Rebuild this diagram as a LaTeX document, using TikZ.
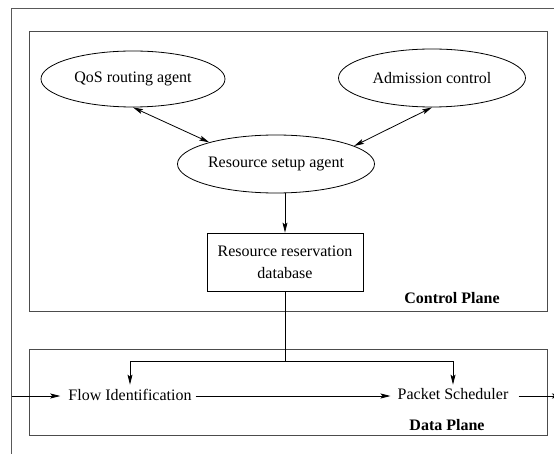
\documentclass[tikz,border=0pt]{standalone}
\usepackage{fontspec}
\setmainfont{Liberation Serif}
\usetikzlibrary{shapes.geometric,arrows.meta}

\tikzset{
  base/.style={font=\fontsize{16}{20}\selectfont},
  agent/.style={base, ellipse, draw, line width=0.8pt, inner sep=0pt},
  dbbox/.style={base, rectangle, draw, line width=0.8pt, align=center,
                minimum width=156pt, minimum height=58pt, inner sep=0pt},
  flowtext/.style={base, inner xsep=4pt, inner ysep=4pt},
  planelabel/.style={base, font=\fontsize{16}{20}\selectfont\bfseries},
  frame/.style={draw=black!70, line width=1pt},
  outer/.style={draw=black!65, line width=1pt},
  link/.style={line width=0.8pt, -{Stealth[length=10pt,width=5pt,inset=2pt]}},
  bilink/.style={line width=0.8pt, {Stealth[length=10pt,width=5pt,inset=2pt]}-{Stealth[length=10pt,width=5pt,inset=2pt]}},
  plain/.style={line width=0.8pt}
}

\begin{document}
\begin{tikzpicture}[x=1pt, y=-1pt]
  \useasboundingbox (0,0) rectangle (554,454);

  % surrounding frame (only its top and left sides fall on the page)
  \draw[outer] (560,9) -- (11.5,9) -- (11.5,460);

  % plane frames
  \draw[frame] (29,32) rectangle (547,311);
  \draw[frame] (29,349) rectangle (547,435);
  \node[planelabel] (cplabel) at (452,298) {Control Plane};
  \node[planelabel] (dplabel) at (447,425) {Data Plane};

  % control plane components
  \node[agent, minimum width=184pt, minimum height=56pt] (qos) at (133,79) {QoS routing agent};
  \node[agent, minimum width=187pt, minimum height=58pt] (adm) at (432,78) {Admission control};
  \node[agent, minimum width=197pt, minimum height=58pt] (setup) at (276,164) {Resource setup agent};
  \node[dbbox] (db) at (285,262) {Resource reservation\\[2pt]database};

  \draw[bilink] (qos.south) -- (setup.162);
  \draw[bilink] (adm.south) -- (setup.13);
  \draw[link] (db.north |- setup.south) -- (db.north);

  % data plane components
  \node[flowtext] (flow) at (130,394.5) {Flow Identification};
  \node[flowtext] (sched) at (453,394.5) {Packet Scheduler};
  \coordinate (in) at (11.5,396);
  \coordinate (out) at (562,396);
  \coordinate (split) at (285,361);

  \draw[link, shorten >=4pt] (in) -- (in -| flow.west);
  \draw[link, shorten >=3pt] (flow.east |- in) -- (sched.west |- in);
  \draw[link, shorten <=6pt] (sched.east |- in) -- (out);

  % reservation database feeds both data plane stages
  \draw[plain] (db.south) -- (split);
  \draw[link] (split) -| (flow.north);
  \draw[link] (split) -| (sched.north);
\end{tikzpicture}
\end{document}
